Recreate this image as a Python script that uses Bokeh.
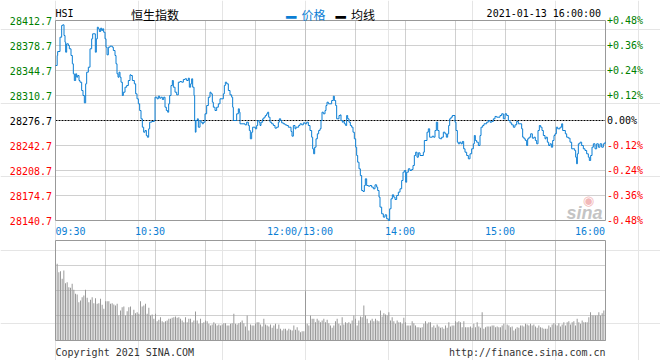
from bokeh.plotting import figure
from bokeh.models import Range1d, Label
from bokeh.embed import file_html
from bokeh.resources import INLINE

# ---------------- data ----------------
symbol = "HSI"
title_cn = "恒生指数"
stamp = "2021-01-13 16:00:00"
legend_names = ["价格", "均线"]
prev_close = 28276.7
price_ticks = [28140.7, 28174.7, 28208.7, 28242.7, 28276.7, 28310.7, 28344.7, 28378.7, 28412.7]
session_minutes = 330
time_ticks = [0, 60, 150, 210, 270, 330]
time_labels = ["09:30", "10:30", "12:00/13:00", "14:00", "15:00", "16:00"]
grid_minutes = [30, 60, 90, 120, 150, 180, 210, 240, 270, 300]
vol_grid = [25, 50, 75]
vol_max = 100
footer_left = "Copyright 2021 SINA.COM"
footer_right = "http://finance.sina.com.cn"

minute = [
    0.0, 1.0, 1.3, 2.7, 3.7, 4.3, 5.1, 5.7, 6.1, 6.7,
    7.7, 8.3, 9.3, 10.1, 10.7, 11.3, 12.1, 12.7, 13.3, 14.1,
    14.7, 15.7, 16.5, 17.3, 18.1, 18.7, 19.7, 20.7, 21.7, 22.3,
    23.9, 24.5, 25.1, 25.7, 26.3, 27.1, 27.7, 28.3, 28.9, 29.7,
    30.3, 30.9, 31.7, 32.7, 34.1, 34.7, 35.7, 36.3, 36.9, 37.5,
    38.1, 38.7, 39.3, 40.1, 40.7, 41.7, 42.7, 43.7, 44.7, 45.3,
    46.1, 47.3, 48.1, 48.9, 49.7, 50.5, 51.3, 52.1, 52.9, 53.7,
    54.5, 55.1, 55.9, 56.5, 57.7, 59.3, 59.7, 60.9, 61.7, 62.5,
    63.3, 64.1, 64.9, 65.7, 66.5, 67.3, 67.9, 68.5, 69.3, 70.1,
    70.7, 71.7, 72.7, 73.7, 74.7, 75.7, 76.7, 77.7, 78.7, 79.7,
    80.3, 81.1, 81.7, 82.3, 83.1, 83.5, 83.9, 84.3, 85.1, 85.7,
    86.7, 87.3, 88.1, 88.7, 89.7, 90.7, 91.7, 92.7, 93.3, 94.1,
    94.7, 95.7, 96.7, 97.7, 98.7, 100.7, 101.3, 101.9, 102.7, 103.7,
    104.7, 105.7, 106.3, 106.7, 108.7, 109.7, 110.3, 110.7, 113.7, 114.7,
    115.7, 116.3, 116.9, 117.7, 118.3, 119.9, 120.7, 121.3, 122.1, 122.7,
    123.3, 124.3, 125.1, 125.9, 126.7, 127.3, 127.9, 128.7, 129.7, 130.7,
    131.7, 132.7, 133.7, 134.3, 135.1, 135.7, 136.7, 137.7, 138.7, 139.7,
    141.3, 141.9, 142.7, 143.7, 144.3, 145.9, 146.7, 147.7, 148.7, 149.7,
    150.7, 151.7, 152.7, 153.7, 154.3, 154.9, 155.5, 156.3, 157.1, 157.9,
    158.7, 159.3, 159.9, 160.7, 161.7, 162.3, 162.9, 163.7, 165.7, 166.7,
    167.3, 168.1, 168.7, 170.1, 170.9, 171.3, 172.1, 172.7, 173.3, 174.1,
    174.7, 175.3, 176.1, 176.9, 177.7, 178.5, 179.3, 180.1, 180.7, 181.3,
    182.1, 182.9, 183.7, 184.5, 185.3, 185.9, 186.7, 187.7, 188.7, 189.7,
    190.7, 191.7, 192.7, 193.3, 194.1, 194.7, 195.7, 196.7, 197.7, 198.7,
    199.7, 200.5, 201.3, 202.1, 202.9, 203.7, 204.7, 205.7, 206.7, 207.7,
    208.5, 209.3, 210.1, 210.7, 211.7, 212.7, 213.7, 214.5, 215.3, 216.1,
    216.9, 217.7, 218.7, 220.7, 221.3, 222.9, 223.7, 224.5, 226.1, 226.9,
    227.7, 228.5, 229.3, 230.1, 230.9, 231.7, 232.7, 233.7, 234.5, 235.3,
    235.9, 236.5, 237.3, 238.1, 239.7, 240.3, 241.1, 241.7, 242.5, 243.3,
    244.1, 244.9, 245.7, 246.7, 247.7, 248.7, 249.7, 250.7, 251.3, 251.9,
    252.7, 253.7, 254.7, 255.3, 256.3, 257.1, 258.7, 259.7, 260.7, 261.7,
    262.7, 263.7, 264.7, 266.7, 267.7, 268.7, 269.7, 270.7, 271.7, 272.7,
    273.7, 274.7, 275.7, 276.7, 277.7, 279.7, 280.3, 281.1, 281.9, 282.7,
    283.3, 284.1, 285.1, 286.1, 287.1, 287.9, 288.7, 289.5, 290.3, 291.1,
    291.9, 292.7, 293.7, 294.3, 295.1, 295.9, 296.7, 297.5, 298.3, 299.1,
    299.7, 300.5, 301.3, 302.7, 303.7, 304.3, 305.9, 306.7, 307.7, 308.7,
    309.7, 311.5, 312.1, 312.7, 313.1, 313.7, 314.7, 315.7, 316.7, 317.7,
    318.7, 319.7, 320.3, 321.1, 321.9, 322.7, 323.7, 324.7, 325.7, 326.7,
    327.7, 328.7, 329.7, 330.0,
]

price = [
    28351.5, 28365.1, 28370.5, 28390.0, 28405.9, 28406.8, 28392.3, 28383.2, 28369.6, 28381.0,
    28378.7, 28374.2, 28365.1, 28353.8, 28340.2, 28331.1, 28340.2, 28335.6, 28337.9, 28331.1,
    28328.8, 28317.5, 28310.7, 28300.7, 28326.6, 28342.4, 28349.2, 28374.2, 28387.8, 28394.6,
    28369.6, 28387.8, 28403.6, 28401.4, 28397.7, 28402.3, 28399.1, 28401.4, 28396.8, 28387.8,
    28376.4, 28366.0, 28376.4, 28377.8, 28376.4, 28371.9, 28365.1, 28353.8, 28340.2, 28335.6,
    28342.4, 28335.6, 28328.8, 28310.7, 28315.2, 28322.0, 28324.3, 28331.1, 28338.8, 28337.9,
    28331.1, 28326.6, 28313.0, 28306.2, 28299.4, 28290.3, 28279.0, 28267.6, 28260.8, 28263.1,
    28256.3, 28254.0, 28265.4, 28274.4, 28275.4, 28276.7, 28308.4, 28306.2, 28309.8, 28307.1,
    28308.4, 28305.3, 28308.4, 28294.8, 28290.3, 28288.0, 28299.4, 28310.7, 28324.3, 28331.1,
    28322.0, 28315.2, 28311.6, 28328.8, 28329.7, 28328.8, 28332.5, 28333.4, 28331.1, 28334.3,
    28322.0, 28326.6, 28333.4, 28322.0, 28310.7, 28276.7, 28260.8, 28276.7, 28279.0, 28267.6,
    28276.7, 28274.4, 28272.2, 28274.4, 28285.8, 28297.1, 28308.4, 28315.2, 28313.0, 28301.6,
    28294.8, 28290.3, 28294.8, 28299.4, 28306.2, 28313.0, 28324.3, 28328.8, 28326.6, 28317.5,
    28311.6, 28308.4, 28294.8, 28276.7, 28285.8, 28292.6, 28288.0, 28272.2, 28270.8, 28274.4,
    28269.9, 28263.1, 28251.8, 28260.8, 28267.6, 28265.4, 28269.9, 28276.7, 28274.4, 28269.9,
    28274.4, 28279.0, 28281.2, 28283.5, 28285.8, 28288.0, 28281.2, 28274.4, 28272.2, 28269.9,
    28266.3, 28267.6, 28274.4, 28279.0, 28276.7, 28273.5, 28272.2, 28270.8, 28269.9, 28267.6,
    28261.8, 28255.4, 28269.9, 28265.4, 28267.6, 28269.9, 28272.2, 28270.8, 28273.5, 28272.2,
    28274.4, 28269.9, 28263.1, 28254.0, 28238.2, 28231.4, 28240.4, 28251.8, 28258.6, 28263.1,
    28265.4, 28276.7, 28288.0, 28285.8, 28290.3, 28297.1, 28301.6, 28299.4, 28303.9, 28309.8,
    28303.9, 28297.1, 28279.0, 28283.5, 28284.4, 28276.7, 28274.4, 28275.4, 28272.2, 28269.9,
    28283.5, 28279.0, 28274.4, 28269.9, 28267.6, 28260.8, 28251.8, 28240.4, 28229.1, 28220.0,
    28211.0, 28201.9, 28181.5, 28180.2, 28188.3, 28197.4, 28188.3, 28187.4, 28188.3, 28186.1,
    28183.8, 28189.2, 28186.1, 28181.5, 28172.5, 28158.9, 28149.8, 28145.3, 28148.4, 28143.0,
    28140.7, 28156.6, 28170.2, 28175.6, 28172.5, 28169.3, 28174.7, 28179.3, 28183.8, 28195.1,
    28206.4, 28208.7, 28192.8, 28206.4, 28211.0, 28208.7, 28210.1, 28215.5, 28229.1, 28233.6,
    28226.8, 28232.7, 28229.1, 28233.6, 28249.5, 28260.8, 28265.4, 28254.0, 28255.4, 28254.0,
    28263.1, 28274.4, 28263.1, 28252.7, 28251.8, 28254.0, 28260.8, 28258.6, 28254.0, 28258.6,
    28269.9, 28279.0, 28281.2, 28283.5, 28274.4, 28263.1, 28247.2, 28245.0, 28247.2, 28245.0,
    28248.2, 28238.2, 28233.6, 28229.1, 28224.6, 28231.4, 28238.2, 28245.0, 28256.3, 28249.5,
    28247.2, 28242.7, 28256.3, 28267.6, 28269.9, 28272.2, 28274.4, 28276.7, 28274.4, 28275.4,
    28279.0, 28282.2, 28281.2, 28283.5, 28285.8, 28279.0, 28285.8, 28283.5, 28276.7, 28273.5,
    28270.8, 28267.6, 28270.8, 28275.4, 28272.2, 28265.4, 28254.0, 28251.8, 28249.5, 28242.7,
    28251.8, 28254.0, 28258.6, 28252.7, 28254.0, 28249.5, 28245.0, 28263.1, 28269.9, 28267.6,
    28263.1, 28256.3, 28251.8, 28254.0, 28247.2, 28242.7, 28245.0, 28240.4, 28249.5, 28256.3,
    28258.6, 28267.6, 28265.4, 28267.6, 28272.2, 28263.1, 28258.6, 28254.0, 28252.7, 28247.2,
    28238.2, 28235.9, 28226.8, 28217.8, 28231.4, 28245.0, 28247.2, 28242.7, 28238.2, 28235.9,
    28231.4, 28226.8, 28222.3, 28229.1, 28240.4, 28245.0, 28238.2, 28245.0, 28240.4, 28245.0,
    28240.4, 28245.0, 28247.2, 28247.2,
]

# per-minute volume (relative units), minutes 1..330
volume = [
    76.7, 68.3, 69.3, 61.7, 70.0, 57.3, 58.3, 53.3, 52.7, 56.7,
    50.7, 46.7, 46.0, 38.3, 40.0, 43.3, 45.0, 50.7, 42.7, 38.3,
    40.7, 43.3, 37.3, 42.3, 36.7, 37.3, 41.7, 35.7, 31.7, 39.3,
    39.3, 39.3, 36.7, 37.3, 36.0, 35.0, 36.7, 25.0, 30.0, 33.3,
    34.0, 25.0, 29.3, 33.3, 34.0, 25.0, 30.7, 27.3, 28.3, 26.7,
    39.3, 34.0, 35.0, 36.7, 26.7, 32.7, 25.0, 26.0, 21.7, 26.7,
    19.3, 20.7, 23.3, 19.3, 18.3, 19.3, 20.0, 21.7, 21.7, 22.7,
    23.3, 24.0, 22.7, 23.3, 21.7, 20.0, 18.3, 23.3, 18.3, 21.7,
    21.7, 18.3, 20.0, 29.0, 20.0, 16.7, 21.7, 17.3, 18.3, 20.0,
    19.3, 16.7, 15.0, 16.0, 18.3, 16.7, 15.0, 16.0, 15.0, 16.0,
    17.3, 17.3, 15.0, 15.0, 16.7, 17.3, 26.7, 16.7, 16.0, 17.3,
    18.3, 20.0, 17.3, 14.0, 25.0, 10.0, 16.0, 15.0, 15.0, 16.7,
    18.3, 18.3, 16.0, 14.0, 21.7, 16.0, 15.0, 14.0, 16.0, 12.7,
    15.0, 16.7, 11.7, 16.0, 11.7, 10.0, 11.7, 11.7, 10.0, 11.7,
    10.7, 10.0, 15.0, 10.7, 13.3, 10.0, 8.3, 9.3, 9.3,
    49.3,
    16.7, 15.0, 25.0, 21.7, 21.7, 18.3, 21.7, 20.0, 18.3, 20.0, 21.7, 18.3, 20.7, 17.3,
    15.0, 12.7, 15.0, 19.3, 21.7, 16.7, 15.0, 23.3, 16.0, 18.3,
    17.3, 18.3, 16.7, 20.0, 25.0, 21.7, 15.0, 20.0, 24.0, 23.3,
    35.0, 25.0, 21.7, 17.3, 20.0, 21.7, 19.3, 21.7, 20.0, 19.3,
    30.0, 24.0, 27.3, 26.0, 25.0, 28.3, 20.0, 23.3, 19.3, 16.7,
    20.0, 18.3, 18.3, 16.7, 22.7, 18.3, 15.0, 15.0, 15.0, 19.3,
    17.3, 15.0, 13.3, 13.3, 12.7, 13.3, 16.7, 19.3, 16.7, 18.3,
    18.3, 13.3, 15.0, 12.7, 16.0, 14.0, 12.7, 13.3, 11.7, 15.0,
    12.7, 18.3, 14.0, 15.0, 15.0, 19.3, 18.3, 19.3, 18.3, 13.3,
    19.3, 13.3, 13.3, 13.3, 14.0, 12.7, 16.7, 13.3, 18.3, 14.0,
    12.7, 28.3, 11.7, 13.3, 14.0, 14.0, 14.0, 15.0, 15.0, 13.3,
    14.0, 13.3, 13.3, 15.0, 16.7, 10.7, 16.0, 15.0, 13.3, 14.0,
    10.0, 11.7, 13.3, 12.7, 15.0, 15.0, 14.0, 16.7, 16.0, 15.0,
    16.7, 15.0, 16.0, 14.0, 12.7, 15.0, 13.3, 12.7, 11.7, 11.7,
    11.7, 15.0, 13.3, 16.0, 17.3, 16.0, 15.0, 17.3, 14.0, 16.0,
    18.3, 15.0, 18.3, 19.3, 16.0, 18.3, 19.3, 15.0, 21.7, 18.3,
    16.7, 20.0, 18.3, 18.3, 18.3, 23.3, 28.3, 25.0, 25.0, 25.0,
    25.0, 28.3, 25.0, 27.3, 30.0, 33.3,
]
vol_minute = list(range(1, len(volume) + 1))

# ---------------- layout / styles ----------------
W, H = 660, 360
PX_L, PX_R = 55, 605          # plot area columns
PX_PT, PX_PB = 20, 220        # price panel rows
PX_VT, PX_VB = 240, 340       # volume panel rows

BLUE = "#0b7ed4"
GREEN = "#008000"
RED = "#ff0000"
GRID = "#a0a0a0"
BORDER = "#999999"
MONO = "DejaVu Sans Mono"
CJK = "Noto Sans CJK SC"

lo, hi = price_ticks[0], price_ticks[-1]
mpp = session_minutes / (PX_R - PX_L)
ppp = (hi - lo) / (PX_PB - PX_PT)
vpp = vol_max / (PX_VB - PX_VT)

x_range = Range1d(0 - PX_L * mpp, session_minutes + (W - PX_R) * mpp)
y_range = Range1d(lo - (H - PX_PB) * ppp, hi + PX_PT * ppp)
vol_range = Range1d(0 - (H - PX_VB) * vpp, vol_max + PX_VT * vpp)


def tick_color(t):
    if t > prev_close + 1e-6:
        return GREEN
    if t < prev_close - 1e-6:
        return RED
    return "black"


def pct_text(t):
    pct = (t - prev_close) / prev_close * 100
    if abs(pct) < 0.005:
        return "0.00%"
    return f"{pct:+.2f}%"


p = figure(width=W, height=H, x_range=x_range, y_range=y_range,
           x_axis_location=None, y_axis_location=None,
           toolbar_location=None, tools="", output_backend="svg", min_border=0)
p.extra_y_ranges = {"vol": vol_range}
p.outline_line_color = None
p.background_fill_color = "white"
p.border_fill_color = "white"


def add_label(**kw):
    p.add_layout(Label(**kw))


def hlines(ys, x0, x1, **kw):
    n = len(ys)
    p.segment(x0=[x0] * n, x1=[x1] * n, y0=list(ys), y1=list(ys), **kw)


def vlines(xs, y0, y1, **kw):
    n = len(xs)
    p.segment(x0=list(xs), x1=list(xs), y0=[y0] * n, y1=[y1] * n, **kw)


# ---- price panel grid & frame ----
h_ticks = [t for t in price_ticks[1:-1] if t != prev_close]
hlines(h_ticks, 0, session_minutes, line_color=GRID, line_width=1, line_dash="1 1")
vlines(grid_minutes, lo, hi, line_color=GRID, line_width=1, line_dash="1 1")
hlines([prev_close], 0, session_minutes, line_color="black", line_width=1, line_dash="2 1")
p.quad(left=[0], right=[session_minutes], bottom=[lo], top=[hi],
       fill_color=None, line_color=BORDER, line_width=1)

# watermark
add_label(x=session_minutes, y=lo, x_offset=-3, y_offset=8, text="sina",
          text_font="Liberation Sans", text_font_style="bold italic", text_font_size="18px",
          text_color="#c4c4c4", text_align="right", text_baseline="alphabetic")
add_label(x=session_minutes, y=lo, x_offset=-17, y_offset=20, text="◉",
          text_font="DejaVu Sans", text_font_size="13px", text_color="#f2b8b8",
          text_align="center", text_baseline="alphabetic")

p.step(minute, price, mode="after", line_color=BLUE, line_width=1)

# ---- volume panel ----
hlines(vol_grid, 0, session_minutes, line_color=GRID, line_width=1, line_dash="1 1",
       y_range_name="vol")
vlines(grid_minutes, 0, vol_max, line_color=GRID, line_width=1, line_dash="1 1",
       y_range_name="vol")
p.vbar(x=vol_minute, top=volume, bottom=0, width=mpp, fill_color="#999999", line_color=None,
       y_range_name="vol")
p.quad(left=[0], right=[session_minutes], bottom=[0], top=[vol_max],
       fill_color=None, line_color=BORDER, line_width=1, y_range_name="vol")

# ---- tick labels ----
for t in price_ticks:
    add_label(x=0, y=t, x_offset=-3.5, text=f"{t:.1f}", text_font=MONO,
              text_font_size="10px", text_color=tick_color(t),
              text_align="right", text_baseline="alphabetic")
    add_label(x=session_minutes, y=t, x_offset=1.5, text=pct_text(t), text_font=MONO,
              text_font_size="10px", text_color=tick_color(t),
              text_align="left", text_baseline="alphabetic")

for i, (tt, lbl) in enumerate(zip(time_ticks, time_labels)):
    if i == 0:
        align, dx = "left", 0
    elif i == len(time_ticks) - 1:
        align, dx = "right", -0.5
    else:
        align, dx = "center", -5.5
    add_label(x=tt, y=lo, x_offset=dx, y_offset=-11, text=lbl,
              text_font=MONO, text_font_size="10px", text_color=BLUE,
              text_align=align, text_baseline="alphabetic")

# ---- header ----
add_label(x=0, y=hi, x_offset=0, y_offset=7, text=symbol, text_font=MONO,
          text_font_size="10px", text_color="black", text_align="left", text_baseline="alphabetic")
add_label(x=0, y=hi, x_offset=99.5, y_offset=6, text=title_cn, text_font=CJK,
          text_font_size="12px", text_color="black", text_align="center",
          text_baseline="alphabetic")
add_label(x=0, y=hi, x_offset=230.5, y_offset=3.5, text="━", text_font=MONO,
          text_font_size="17px", text_color=BLUE, text_align="left", text_baseline="alphabetic")
add_label(x=0, y=hi, x_offset=246, y_offset=6, text=legend_names[0], text_font=CJK,
          text_font_size="12px", text_color=BLUE, text_align="left", text_baseline="alphabetic")
add_label(x=0, y=hi, x_offset=280, y_offset=3.5, text="━", text_font=MONO,
          text_font_size="17px", text_color="black", text_align="left", text_baseline="alphabetic")
add_label(x=0, y=hi, x_offset=295.5, y_offset=6, text=legend_names[1], text_font=CJK,
          text_font_size="12px", text_color="black", text_align="left", text_baseline="alphabetic")
add_label(x=session_minutes, y=hi, x_offset=-4.5, y_offset=7, text=stamp, text_font=MONO,
          text_font_size="10px", text_color="black", text_align="right",
          text_baseline="alphabetic")

# ---- footer ----
add_label(x=0, y=0, y_range_name="vol", x_offset=0, y_offset=-12, text=footer_left,
          text_font=MONO, text_font_size="10px", text_color="#333333",
          text_align="left", text_baseline="alphabetic")
add_label(x=session_minutes, y=0, y_range_name="vol", x_offset=0, y_offset=-12,
          text=footer_right, text_font=MONO, text_font_size="10px", text_color="#333333",
          text_align="right", text_baseline="alphabetic")

open("out.html", "w").write(file_html(p, INLINE))
